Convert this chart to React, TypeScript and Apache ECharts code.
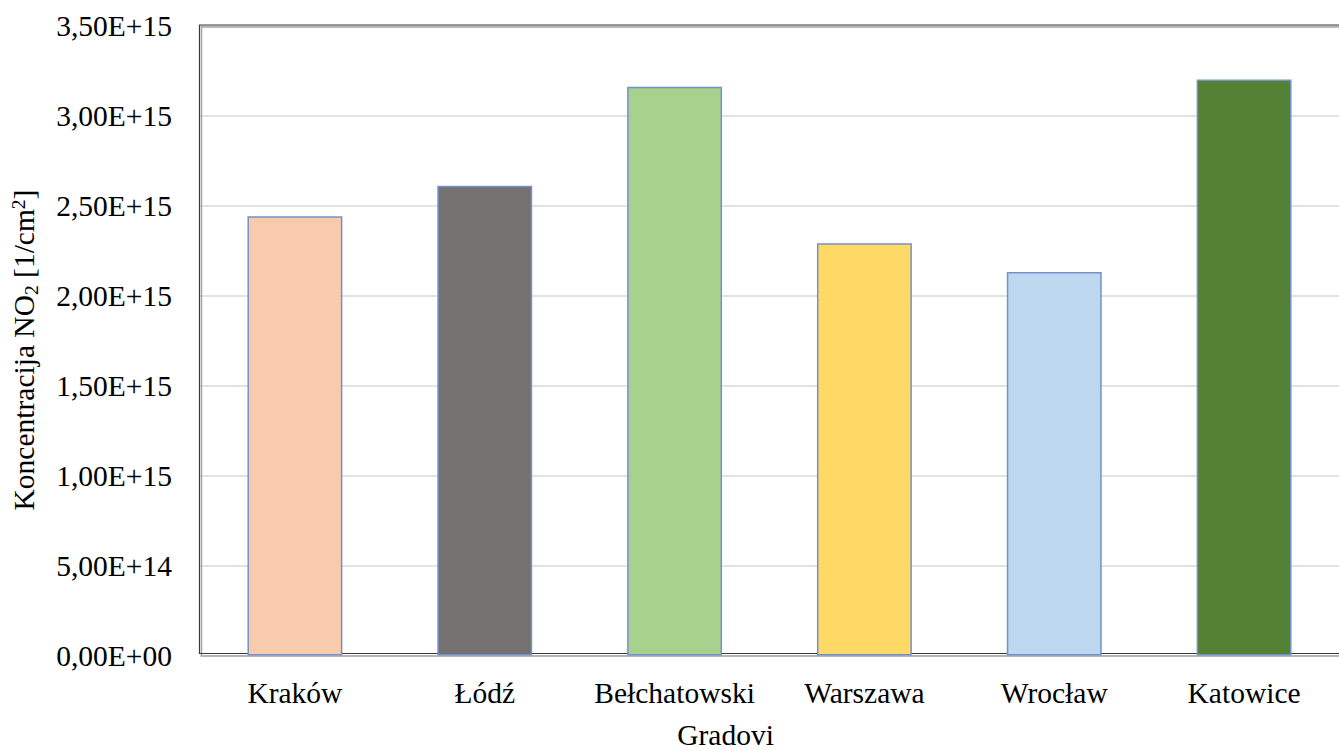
import React, { useEffect, useRef } from "react";
import * as echarts from "echarts";

// Mean tropospheric NO2 column per city
const cities = ["Kraków", "Łódź", "Bełchatowski", "Warszawa", "Wrocław", "Katowice"];
const no2Values = [2.44e15, 2.61e15, 3.16e15, 2.29e15, 2.13e15, 3.2e15];
const barColors = ["#F8CBAD", "#767171", "#A9D18E", "#FFD966", "#BDD7EE", "#548235"];

const yMin = 0;
const yMax = 3.5e15;
const yStep = 5e14;

const SERIF = "'Liberation Serif', 'Times New Roman', serif";

// Excel-style scientific notation with a decimal comma: 3,50E+15
function sci(v: number): string {
  if (v === 0) return "0,00E+00";
  let exp = Math.floor(Math.log10(Math.abs(v)));
  let mant = v / Math.pow(10, exp);
  if (Number(mant.toFixed(2)) >= 10) {
    exp += 1;
    mant = v / Math.pow(10, exp);
  }
  const sign = exp < 0 ? "-" : "+";
  const e = String(Math.abs(exp)).padStart(2, "0");
  return `${mant.toFixed(2).replace(".", ",")}E${sign}${e}`;
}

const GRID_LEFT = 200;
const GRID_TOP = 25.5;
const GRID_W = 1146;
const GRID_H = 630;

export default function App() {
  const ref = useRef<HTMLDivElement>(null);

  useEffect(() => {
    if (!ref.current) return;
    const chart = echarts.init(ref.current, null, { renderer: "svg" });

    chart.setOption({
      animation: false,
      backgroundColor: "#ffffff",
      textStyle: { fontFamily: SERIF },
      grid: {
        left: GRID_LEFT,
        top: GRID_TOP,
        width: GRID_W,
        height: GRID_H,
        containLabel: false,
      },
      xAxis: {
        type: "category",
        data: cities,
        axisLine: { show: false },
        axisTick: { show: false },
        axisLabel: {
          color: "#000000",
          fontFamily: SERIF,
          fontSize: 29.5,
          margin: 22,
          interval: 0,
        },
      },
      yAxis: {
        type: "value",
        min: yMin,
        max: yMax,
        interval: yStep,
        axisLine: { show: false },
        axisTick: { show: false },
        splitLine: { lineStyle: { color: "#d9d9d9", width: 1.5 } },
        axisLabel: {
          color: "#000000",
          fontFamily: SERIF,
          fontSize: 29.5,
          margin: 28,
          formatter: (v: number) => sci(v),
        },
      },
      series: [
        {
          type: "bar",
          z: 3,
          barCategoryGap: "50%",
          data: no2Values.map((v, i) => ({
            value: v,
            itemStyle: {
              color: barColors[i],
              borderColor: "#7391cb",
              borderWidth: 1.5,
            },
          })),
        },
      ],
      graphic: [
        // plot frame: grey shadow under a dark outline
        {
          type: "rect",
          z: 1,
          silent: true,
          shape: { x: GRID_LEFT + 1.5, y: GRID_TOP + 1.5, width: GRID_W, height: GRID_H - 1 },
          style: { fill: "none", stroke: "#a6a6a6", lineWidth: 1.5 },
        },
        {
          type: "rect",
          z: 1,
          silent: true,
          shape: { x: GRID_LEFT - 0.5, y: GRID_TOP - 0.5, width: GRID_W, height: GRID_H - 1.5 },
          style: { fill: "none", stroke: "#3a3a3a", lineWidth: 1.2 },
        },
        {
          type: "text",
          silent: true,
          x: 725.5,
          y: 735,
          style: {
            text: "Gradovi",
            font: `29.5px ${SERIF}`,
            fill: "#000000",
            align: "center",
            verticalAlign: "middle",
          },
        },
        {
          type: "text",
          silent: true,
          x: 24,
          y: 350,
          rotation: Math.PI / 2,
          style: {
            text: "Koncentracija NO{sub|2} [1/cm{sup|2}]",
            font: `29.5px ${SERIF}`,
            fontFamily: SERIF,
            fontSize: 29.5,
            fill: "#000000",
            align: "center",
            verticalAlign: "middle",
            rich: {
              sub: {
                fontFamily: SERIF,
                fontSize: 19.5,
                fill: "#000000",
                padding: [14, 0, 0, 0],
              },
              sup: {
                fontFamily: SERIF,
                fontSize: 19.5,
                fill: "#000000",
                padding: [0, 0, 12, 0],
              },
            },
          },
        },
      ],
    });

    return () => chart.dispose();
  }, []);

  return (
    <div
      ref={ref}
      style={{ position: "fixed", left: 0, top: 0, width: 1339, height: 751 }}
    />
  );
}
